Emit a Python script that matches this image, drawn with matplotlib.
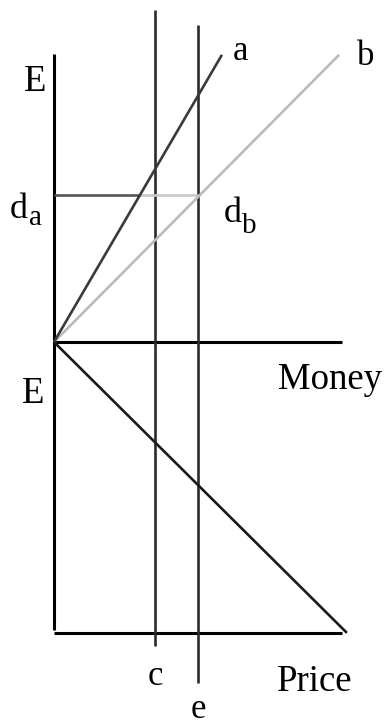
import matplotlib
matplotlib.use("Agg")
import matplotlib.pyplot as plt

# ---- diagram data (units; origin where the E axis meets the Money axis) ----
axis_top = 10.0          # top of the E axis (upper panel)
axis_bottom = -10.0      # bottom of the E axis (lower panel)
money_len = 10.0         # length of the Money axis
price_level = -10.1      # level of the Price axis
price_len = 10.0
line_a_end = (5.83, 9.97)
line_b_end = (9.9, 9.97)
demand_end = (10.17, -10.1)   # descending line in lower panel
d_level = 5.1
d_a_x = d_level * line_a_end[0] / line_a_end[1]
c_x = 3.5
c_span = (11.53, -10.56)
e_x = 5.0
e_span = (11.0, -11.84)

W, H, DPI = 384, 728, 100
UNIT = 28.8
ORX, ORY = 54, 342

fig = plt.figure(figsize=(W / DPI, H / DPI), dpi=DPI)
ax = fig.add_axes([0, 0, 1, 1])
ax.set_xlim(-ORX / UNIT, (W - ORX) / UNIT)
ax.set_ylim((ORY - H) / UNIT, ORY / UNIT)
ax.axis("off")

lw_axis = 2.2
lw_line = 1.9
kw = dict(solid_capstyle="butt")

# axes
ax.plot([0, 0], [axis_top, axis_bottom], color="black", lw=lw_axis, **kw)
ax.plot([0, money_len], [0, 0], color="black", lw=lw_axis, **kw)
ax.plot([0, price_len], [price_level, price_level], color="black", lw=lw_axis, **kw)

# vertical lines c and e
ax.plot([c_x, c_x], list(c_span), color="#2a2a2a", lw=lw_line, **kw)
ax.plot([e_x, e_x], list(e_span), color="#2a2a2a", lw=lw_line, **kw)

# d line (dark then light)
ax.plot([0, d_a_x], [d_level, d_level], color="#555555", lw=lw_line, **kw)
ax.plot([d_a_x, e_x], [d_level, d_level], color="#c8c8c8", lw=lw_line, **kw)

# rays a and b
ax.plot([0, line_b_end[0]], [0, line_b_end[1]], color="#bbbbbb", lw=lw_line, **kw)
ax.plot([0, line_a_end[0]], [0, line_a_end[1]], color="#3a3a3a", lw=lw_line, **kw)

# descending line
ax.plot([0, demand_end[0]], [0, demand_end[1]], color="#1a1a1a", lw=lw_line, **kw)

# ---- labels (pixel layout) ----
FONT = "Liberation Serif"


def label(x, y, s, size, ha="center"):
    fig.text(x / W, 1 - y / H, s, fontsize=size, family=FONT,
             ha=ha, va="baseline", color="black")


label(35, 91, "E", 26.5)
label(33, 403, "E", 26.5)
label(241, 60, "a", 25)
label(366, 65, "b", 25)
label(330, 389, "Money", 26.5)
label(315, 691, "Price", 26.5)
label(155, 685, "c", 25)
label(198, 718, "e", 25)
label(10, 218, "d", 26, ha="left")
label(29, 225, "a", 21, ha="left")
label(224, 222, "d", 26, ha="left")
label(242, 233, "b", 21, ha="left")

fig.savefig("out.png", dpi=DPI)
